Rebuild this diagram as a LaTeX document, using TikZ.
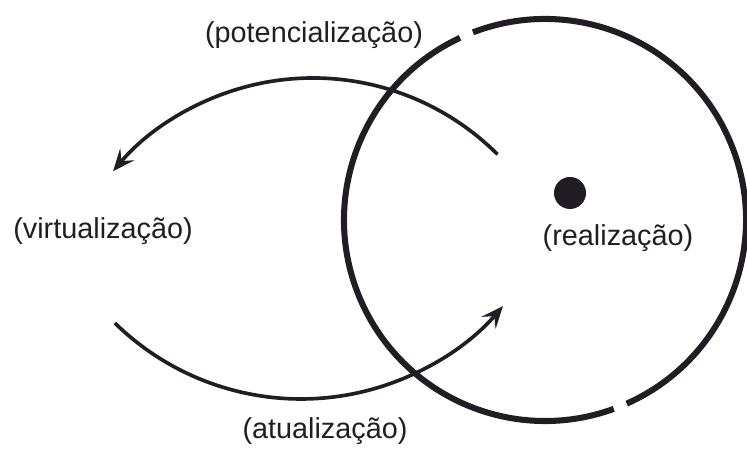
\documentclass[tikz,border=0pt]{standalone}
\usepackage{fontspec}
\setmainfont{Liberation Sans}
\usetikzlibrary{arrows.meta}
\definecolor{InkDark}{RGB}{34,28,36}
\tikzset{
  ring/.style={draw=InkDark,line width=4.3pt},
  flow/.style={draw=InkDark,line width=2.6pt,
    -{Stealth[length=5.5mm,width=4.6mm,inset=2.2mm]}},
  blob/.style={circle,fill=InkDark,minimum size=8mm,inner sep=0pt},
  term/.style={text=InkDark,font=\fontsize{20.5}{24}\selectfont,inner sep=0pt},
}

\begin{document}
\begin{tikzpicture}
\useasboundingbox (0,0) rectangle (18.675,11.325);
\coordinate (ctr) at (13.625,5.825);
\coordinate (upc) at (7.825,2.85);
\coordinate (loc) at (7.525,8.0);
\coordinate (vs) at ([shift={(45:6.525)}]upc);
\coordinate (as) at ([shift={(225.6:6.65)}]loc);
% circle, broken twice
\draw[ring] ([shift={(115:5.025)}]ctr) arc[start angle=115,end angle=290,radius=5.025];
\draw[ring] ([shift={(-66:5.025)}]ctr) arc[start angle=-66,end angle=111,radius=5.025];
\node[blob] (dot) at (14.25,6.5) {};
% the two bent arrows
\draw[flow] (vs) arc[start angle=45,end angle=140,radius=6.525];
\draw[flow] (as) arc[start angle=225.6,end angle=319.4,radius=6.65];
\node[term] (pot) at (7.85,10.45) {(potencialização)};
\node[term] (virt) at (2.575,5.55) {(virtualização)};
\node[term] (real) at (15.45,5.375) {(realização)};
\node[term] (atu) at (8.125,0.55) {(atualização)};
\end{tikzpicture}
\end{document}
